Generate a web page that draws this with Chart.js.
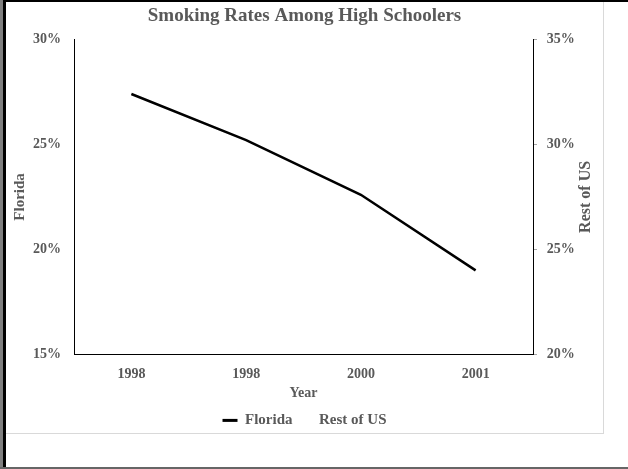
<!DOCTYPE html>
<html>
<head>
<meta charset="utf-8">
<script src="https://cdn.jsdelivr.net/npm/chart.js@4"></script>
<style>
  html, body { margin: 0; padding: 0; background: #fff; width: 628px; height: 469px; overflow: hidden; position: relative; }
  .ln { position: absolute; }
  #box { position: absolute; left: 6px; top: 2px; width: 597px; height: 431px; border-right: 1px solid #d9d9d9; border-bottom: 1px solid #d9d9d9; }
  #c { position: absolute; left: 0; top: 0; }
</style>
</head>
<body>
<div id="box"><canvas id="c" width="597" height="437"></canvas></div>
<div class="ln" style="left:0;top:0;width:628px;height:2px;background:#000"></div>
<div class="ln" style="left:0;top:0;width:3px;height:469px;background:#7f7f7f"></div>
<div class="ln" style="left:3px;top:0;width:3px;height:469px;background:#000"></div>
<div class="ln" style="left:0;top:467px;width:628px;height:2px;background:#666"></div>
<script>
const categories = ['1998', '1998', '2000', '2001'];
const floridaValues = [27.4, 25.2, 22.6, 19.0];
const restOfUSValues = [null, null, null, null];
const leftTicks = [15, 20, 25, 30];
const rightTicks = [20, 25, 30, 35];

const FONT = "'Liberation Serif', 'Times New Roman', serif";
const GREY = '#595959';

// Right axis title reads bottom-to-top, like the left one
const rightTitlePlugin = {
  id: 'rightTitle',
  afterDraw(chart) {
    const s = chart.scales.y1;
    const ctx = chart.ctx;
    ctx.save();
    ctx.translate(s.right - 16, (s.top + s.bottom) / 2);
    ctx.rotate(-Math.PI / 2);
    ctx.font = "bold 16px " + FONT;
    ctx.fillStyle = GREY;
    ctx.textAlign = 'center';
    ctx.textBaseline = 'middle';
    ctx.fillText('Rest of US', 0, 0);
    ctx.restore();
  }
};

new Chart(document.getElementById('c'), {
  type: 'line',
  data: {
    labels: categories,
    datasets: [
      {
        label: 'Florida',
        data: floridaValues,
        yAxisID: 'y',
        borderColor: '#000',
        backgroundColor: '#000',
        borderWidth: 2.5,
        pointRadius: 0,
        tension: 0,
        fill: false
      },
      {
        label: 'Rest of US',
        data: restOfUSValues,
        yAxisID: 'y1',
        borderColor: 'rgba(0,0,0,0)',
        backgroundColor: 'rgba(0,0,0,0)',
        borderWidth: 2.5,
        pointRadius: 0,
        fill: false
      }
    ]
  },
  plugins: [rightTitlePlugin],
  options: {
    responsive: false,
    animation: false,
    layout: { padding: { left: 1, right: 1, top: 0, bottom: 1.1 } },
    plugins: {
      title: {
        display: true,
        text: 'Smoking Rates Among High Schoolers',
        color: GREY,
        font: { family: FONT, size: 19, weight: 'bold' },
        padding: { top: 2.6, bottom: 12 }
      },
      legend: {
        position: 'bottom',
        labels: {
          color: GREY,
          font: { family: FONT, size: 15, weight: 'bold' },
          boxWidth: 15,
          boxHeight: 3,
          padding: 4,
          generateLabels(chart) {
            const items = Chart.defaults.plugins.legend.labels.generateLabels(chart);
            items.forEach(i => { i.lineWidth = 0; });
            return items;
          }
        }
      },
      tooltip: { enabled: false }
    },
    scales: {
      x: {
        offset: true,
        grid: { display: false, drawTicks: true, tickLength: 12 },
        border: { display: true, color: '#000', width: 1 },
        ticks: { color: GREY, font: { family: FONT, size: 14, weight: 'bold' }, padding: 0 },
        title: {
          display: true, text: 'Year', color: GREY,
          font: { family: FONT, size: 14, weight: 'bold' },
          padding: { top: 2, bottom: 6.9 }
        }
      },
      y: {
        position: 'left',
        min: 15, max: 30,
        afterBuildTicks(scale) { scale.ticks = leftTicks.map(v => ({ value: v })); },
        grid: { display: false, drawTicks: true, tickLength: 13 },
        border: { display: true, color: '#000', width: 1 },
        ticks: { color: GREY, font: { family: FONT, size: 14, weight: 'bold' }, padding: 0, callback: v => v + '%' },
        title: {
          display: true, text: 'Florida', color: GREY,
          font: { family: FONT, size: 15, weight: 'bold' },
          padding: { top: 4, bottom: 4 }
        }
      },
      y1: {
        position: 'right',
        min: 20, max: 35,
        afterBuildTicks(scale) { scale.ticks = rightTicks.map(v => ({ value: v })); },
        grid: { display: true, drawOnChartArea: false, drawTicks: true, tickLength: 4, color: '#a6a6a6' },
        border: { display: true, color: '#000', width: 1 },
        ticks: { color: GREY, font: { family: FONT, size: 14, weight: 'bold' }, padding: 9.7, callback: v => v + '%' },
        // space is reserved here; the visible title is drawn by rightTitlePlugin
        title: {
          display: true, text: 'Rest of US', color: 'rgba(0,0,0,0)',
          font: { family: FONT, size: 14, weight: 'bold' },
          padding: { top: 0.4, bottom: 0.4 }
        }
      }
    }
  }
});
</script>
</body>
</html>
